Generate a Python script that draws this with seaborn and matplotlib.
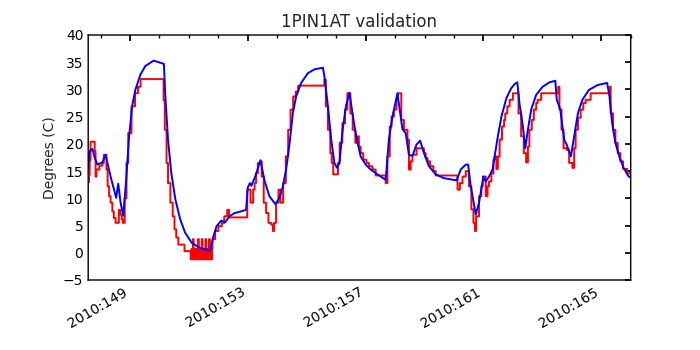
import pandas as pd
import matplotlib
matplotlib.use("Agg")
import matplotlib.pyplot as plt
import matplotlib.ticker as mticker
import seaborn as sns

# --- data (day of year 2010, degrees C) ---
model_days = [147.58, 147.62, 147.72, 147.80, 147.89, 148.06, 148.17, 148.34, 148.53, 148.60,
              148.68, 148.77, 148.87, 148.96, 149.07, 149.18, 149.35, 149.52, 149.80, 150.15,
              150.20, 150.29, 150.40, 150.54, 150.70, 150.87, 151.10, 151.38, 151.72, 151.83,
              151.94, 152.10, 152.23, 152.38, 152.55, 152.77, 152.94, 153.00, 153.07, 153.12,
              153.25, 153.43, 153.56, 153.73, 153.94, 154.07, 154.19, 154.30, 154.42, 154.53,
              154.64, 154.81, 155.04, 155.27, 155.55, 155.60, 155.72, 155.83, 155.94, 156.03,
              156.11, 156.22, 156.33, 156.45, 156.57, 156.68, 156.83, 157.00, 157.17, 157.40,
              157.68, 157.79, 157.91, 158.08, 158.19, 158.25, 158.36, 158.47, 158.59, 158.73,
              158.85, 158.98, 159.15, 159.38, 159.66, 160.09, 160.23, 160.40, 160.48, 160.57,
              160.74, 160.85, 161.00, 161.08, 161.19, 161.31, 161.38, 161.49, 161.61, 161.78,
              161.94, 162.06, 162.15, 162.22, 162.34, 162.42, 162.51, 162.62, 162.79, 163.01,
              163.24, 163.44, 163.49, 163.61, 163.74, 163.83, 163.97, 164.08, 164.21, 164.36,
              164.58, 164.87, 165.20, 165.28, 165.37, 165.48, 165.63, 165.76, 165.93, 166.00]
model_temps = [15.5, 18.6, 19.1, 17.5, 16.2, 16.6, 18.0, 14.0, 10.1, 12.7,
               9.2, 6.8, 13.4, 20.8, 26.9, 29.9, 32.7, 34.3, 35.3, 34.7,
               28.7, 20.8, 14.7, 9.8, 6.2, 3.7, 1.8, 0.9, 0.4, 3.0,
               4.9, 5.9, 5.6, 6.7, 7.3, 7.6, 7.9, 12.0, 12.8, 12.3,
               14.0, 17.0, 13.4, 10.4, 8.9, 10.1, 12.2, 15.3, 20.2, 25.7,
               28.7, 31.2, 33.0, 33.7, 34.0, 32.4, 26.9, 20.8, 16.5, 15.6,
               16.5, 22.6, 26.9, 29.4, 25.0, 21.4, 17.7, 16.2, 15.3, 14.4,
               13.4, 20.8, 25.0, 29.3, 25.0, 22.7, 22.0, 18.0, 17.8, 19.9,
               20.6, 18.3, 15.9, 14.4, 13.7, 13.3, 15.3, 16.2, 16.2, 12.2,
               7.0, 9.2, 14.0, 13.1, 14.0, 15.3, 17.7, 21.4, 25.0, 28.4,
               30.2, 31.0, 31.3, 27.6, 23.2, 19.2, 22.6, 26.3, 29.0, 30.5,
               31.3, 31.6, 28.1, 26.3, 20.8, 19.8, 17.7, 21.4, 25.7, 28.1,
               29.9, 30.8, 31.2, 28.7, 23.8, 20.2, 17.4, 15.6, 14.0, 13.8]

telem_days = [147.58, 147.61, 147.63, 147.66, 147.80, 147.83, 147.86, 147.96, 148.06, 148.11,
              148.20, 148.24, 148.29, 148.34, 148.40, 148.45, 148.51, 148.62, 148.67, 148.72,
              148.76, 148.82, 148.88, 148.94, 149.05, 149.17, 149.27, 149.36, 150.14, 150.18,
              150.24, 150.29, 150.37, 150.45, 150.51, 150.57, 150.64, 150.85,
              151.060, 151.085, 151.110, 151.135, 151.160, 151.185, 151.210, 151.235, 151.260, 151.285,
              151.310, 151.335, 151.360, 151.385, 151.410, 151.435, 151.460, 151.485, 151.510, 151.535,
              151.560, 151.585, 151.610, 151.635, 151.660, 151.685, 151.710, 151.735, 151.760, 151.785,
              151.80, 151.89, 152.00, 152.12, 152.20, 152.30, 152.36, 152.98, 153.09, 153.18,
              153.23, 153.28, 153.34, 153.43, 153.47, 153.54, 153.62, 153.70, 153.79, 153.85,
              153.89, 153.96, 154.04, 154.11, 154.20, 154.29, 154.37, 154.45, 154.54, 154.63,
              154.71, 155.60, 155.65, 155.72, 155.80, 155.85, 155.90, 156.06, 156.12, 156.21,
              156.30, 156.38, 156.48, 156.56, 156.65, 156.72, 156.77, 156.83, 156.92, 157.03,
              157.11, 157.23, 157.34, 157.68, 157.74, 157.82, 157.88, 157.96, 158.05, 158.10,
              158.21, 158.30, 158.42, 158.47, 158.53, 158.59, 158.73, 158.98, 159.04, 159.10,
              159.19, 159.30, 159.38, 160.12, 160.20, 160.29, 160.40, 160.51, 160.59, 160.66,
              160.71, 160.75, 160.85, 160.93, 160.98, 161.08, 161.14, 161.19, 161.27, 161.34,
              161.38, 161.44, 161.49, 161.55, 161.63, 161.70, 161.74, 161.81, 161.89, 162.00,
              162.19, 162.28, 162.37, 162.45, 162.51, 162.56, 162.64, 162.71, 162.79, 162.84,
              162.96, 163.54, 163.58, 163.65, 163.72, 163.83, 163.91, 164.02, 164.08, 164.13,
              164.21, 164.30, 164.39, 164.47, 164.64, 165.29, 165.32, 165.40, 165.48, 165.56,
              165.65, 165.74, 165.88, 166.00]
telem_temps = [13.0, 14.3, 17.0, 20.4, 18.6, 14.0, 15.3, 16.0, 16.5, 18.0,
               15.3, 12.2, 10.4, 9.2, 7.6, 6.4, 5.5, 7.9, 7.0, 6.1,
               5.5, 10.0, 16.5, 22.0, 26.9, 29.3, 30.5, 31.9, 28.0, 22.6,
               16.5, 12.8, 9.2, 6.7, 4.3, 2.8, 1.5, 0.3,
               -1.2, 0.7, -1.2, 2.5, -1.2, 0.7, -1.2, 0.7, -1.2, 0.7,
               2.5, -1.2, 0.7, -1.2, 0.7, 2.5, -1.2, 0.7, -1.2, 0.7,
               2.5, -1.2, 0.7, -1.2, 0.7, 2.5, -1.2, 0.7, -1.2, 0.7,
               2.5, 4.0, 4.9, 5.5, 6.7, 7.9, 6.5, 11.6, 9.2, 11.6,
               12.8, 14.6, 16.5, 16.8, 14.0, 9.2, 7.3, 5.5, 5.2, 4.0,
               5.5, 9.2, 11.6, 9.2, 12.8, 17.7, 22.6, 26.3, 28.7, 29.6,
               30.7, 31.8, 26.9, 22.6, 18.3, 16.5, 14.4, 16.5, 20.2, 23.8,
               26.3, 29.3, 25.6, 22.6, 20.2, 21.4, 19.5, 18.3, 17.1, 16.5,
               15.9, 15.3, 14.2, 12.8, 17.7, 23.2, 25.0, 26.3, 28.1, 29.3,
               24.4, 22.6, 20.8, 15.3, 16.8, 18.0, 19.2, 18.3, 17.4, 16.8,
               15.9, 15.0, 14.2, 11.6, 12.8, 14.0, 15.0, 12.2, 8.0, 5.5,
               4.0, 6.7, 10.4, 12.2, 14.0, 10.4, 12.2, 13.1, 14.6, 17.1,
               17.7, 15.4, 17.7, 20.8, 23.2, 24.4, 25.6, 26.9, 28.1, 29.3,
               25.6, 21.4, 18.3, 16.6, 19.5, 22.6, 24.4, 26.3, 27.5, 28.1,
               29.3, 30.5, 26.3, 22.6, 19.2, 18.9, 16.5, 15.6, 19.2, 22.6,
               24.8, 26.3, 27.5, 28.1, 29.3, 30.5, 25.6, 22.6, 20.2, 18.3,
               16.8, 15.4, 14.6, 14.0]

major_days = [149, 153, 157, 161, 165]
tick_labels = ["2010:%03d" % d for d in major_days]

model_df = pd.DataFrame({"day": model_days, "temp": model_temps})
telem_df = pd.DataFrame({"day": telem_days, "temp": telem_temps})

sns.set_theme(style="white")
plt.rcParams.update({
    "font.family": ["DejaVu Sans"],
    "path.simplify": False,
    "path.snap": False,
    "xtick.direction": "in", "ytick.direction": "in",
    "xtick.top": True, "ytick.right": True,
    "xtick.major.size": 4, "ytick.major.size": 4,
    "xtick.minor.size": 2, "xtick.minor.visible": True,
    "axes.edgecolor": "black", "axes.linewidth": 1.0,
})

fig, ax = plt.subplots(figsize=(7, 3.5), dpi=100)
fig.subplots_adjust(left=0.126, right=0.901, top=0.9, bottom=0.2)

sns.lineplot(data=telem_df, x="day", y="temp", ax=ax, color="red", linewidth=1.4,
             estimator=None, sort=False, drawstyle="steps-post")
sns.lineplot(data=model_df, x="day", y="temp", ax=ax, color="blue", linewidth=1.4,
             estimator=None, sort=False)

ax.set_xlim(147.58, 166.0)
ax.set_ylim(-5, 40)
ax.yaxis.set_major_locator(mticker.MultipleLocator(5))
ax.yaxis.set_major_formatter(mticker.FuncFormatter(lambda v, p: f"{v:.0f}".replace("-", "\u2212")))
ax.xaxis.set_major_locator(mticker.FixedLocator(major_days))
ax.xaxis.set_major_formatter(mticker.FixedFormatter(tick_labels))
ax.xaxis.set_minor_locator(mticker.MultipleLocator(1))
ax.tick_params(axis="both", which="both", colors="black", labelsize=10)
plt.setp(ax.get_xticklabels(), rotation=30, ha="right")

ax.set_xlabel("")
ax.set_ylabel("Degrees (C)", fontsize=10)
ax.set_title("1PIN1AT validation", fontsize=12)

plt.savefig("out.png", dpi=100)
